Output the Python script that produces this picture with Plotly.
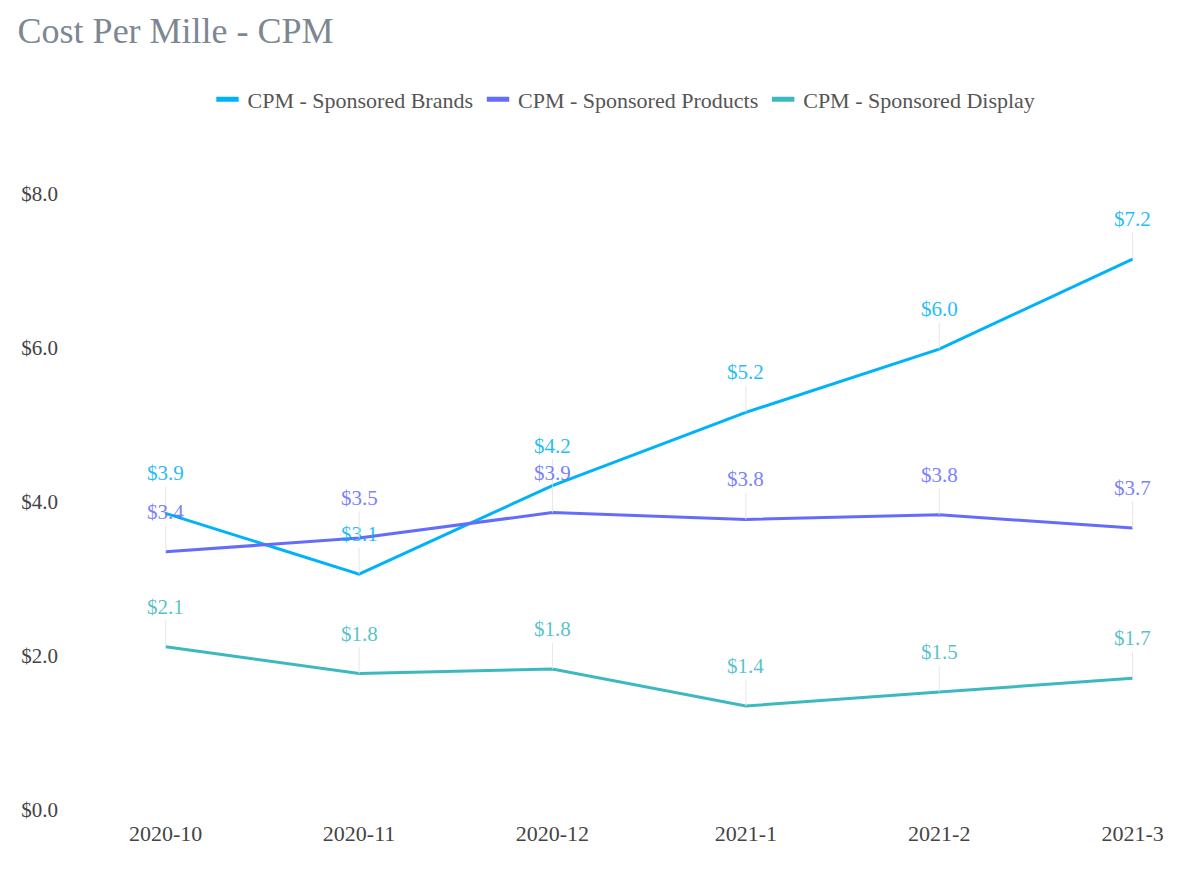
import plotly.graph_objects as go

months = ["2020-10", "2020-11", "2020-12", "2021-1", "2021-2", "2021-3"]
brands = [3.85, 3.06, 4.21, 5.16, 5.98, 7.15]
products = [3.35, 3.53, 3.86, 3.77, 3.83, 3.66]
display = [2.12, 1.77, 1.83, 1.35, 1.53, 1.71]

series = [
    ("CPM - Sponsored Brands", brands, "#00b2f8"),
    ("CPM - Sponsored Products", products, "#646dfa"),
    ("CPM - Sponsored Display", display, "#3cb9c0"),
]

FF = "Liberation Serif, Times New Roman, serif"
fig = go.Figure()
annotations = []
for name, vals, color in series:
    fig.add_trace(go.Scatter(x=months, y=vals, mode="lines", name=name, showlegend=False,
                             legendgroup=name, line=dict(color=color, width=3)))
    # legend-only entry drawn as a short thick bar
    fig.add_trace(go.Scatter(x=[None], y=[None], mode="markers", name=name, legendgroup=name,
                             marker=dict(symbol="line-ew", size=18, color=color,
                                         line=dict(color=color, width=5))))
    for m, v in zip(months, vals):
        annotations.append(dict(
            x=m, y=v, xref="x", yref="y", text=f"${v:.1f}",
            showarrow=True, arrowhead=0, arrowwidth=1, arrowcolor="#e3e3e3",
            ax=0, ay=-40, font=dict(color=color, size=21, family=FF),
            opacity=0.85,
        ))

fig.update_layout(
    width=1200, height=889,
    paper_bgcolor="white", plot_bgcolor="white",
    margin=dict(l=61, r=29, t=147, b=87),
    title=dict(text="Cost Per Mille - CPM", x=0.008, xanchor="left", y=0.975, yanchor="middle",
               font=dict(family=FF, size=36, color="#7d8793")),
    legend=dict(orientation="h", x=0.5, xanchor="center", y=1.085, yanchor="middle",
                font=dict(family=FF, size=22, color="#555555")),
    annotations=annotations,
    font=dict(family=FF, size=22, color="#444444"),
)
fig.update_xaxes(type="category", range=[-0.5, 5.24], showgrid=False, zeroline=False,
                 showline=False, ticklabelstandoff=8,
                 tickfont=dict(family=FF, size=22, color="#444444"))
fig.update_yaxes(range=[0, 8.5], dtick=2, tickprefix="$", tickformat=".1f", showgrid=False,
                 zeroline=False, showline=False, ticklabelstandoff=10,
                 tickfont=dict(family=FF, size=21, color="#444444"))

fig.write_html("out.html")
